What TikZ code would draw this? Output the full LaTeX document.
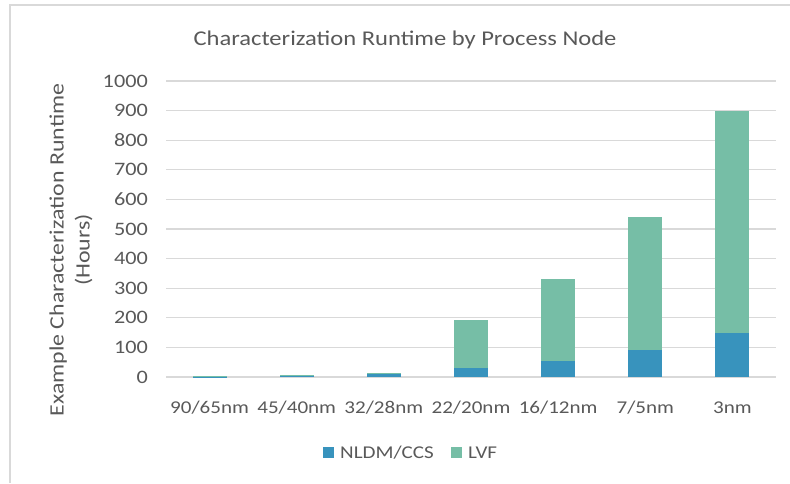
\documentclass[tikz,border=0pt]{standalone}
\usepackage{fontspec}
\setmainfont{Carlito}[FakeStretch=1.17]
\definecolor{nldm}{HTML}{3893BD}
\definecolor{lvf}{HTML}{76BEA6}
\definecolor{gridgray}{HTML}{D9D9D9}
\definecolor{textgray}{HTML}{595959}
\definecolor{framegray}{HTML}{D9D9D9}
\begin{document}
\begin{tikzpicture}[x=1pt,y=-1pt,
  ticklabel/.style={font=\fontsize{19}{22}\selectfont, text=textgray, anchor=east, inner sep=0pt},
  catlabel/.style={font=\fontsize{18}{22}\selectfont, text=textgray, anchor=center, inner sep=0pt},
  gridline/.style={draw=gridgray, line width=1.2pt},
  legendkey/.style={minimum size=11pt, inner sep=0pt},
  legendtext/.style={font=\fontsize{18}{22}\selectfont, text=textgray, anchor=west, inner sep=0pt}]
  \useasboundingbox (0,0) rectangle (790,483);
  % chart frame (only top and left edges fall inside the page)
  \draw[framegray, line width=1.5pt] (10,483) -- (10,5) -- (790,5);
  % title
  \node[font=\fontsize{21}{25}\selectfont, text=textgray] (title) at (405,40) {Characterization Runtime by Process Node};
  % horizontal gridlines and value axis labels
  \foreach \v in {0,100,...,1000} {
    \draw[gridline] (166,{377-0.296*\v}) -- (776,{377-0.296*\v});
    \node[ticklabel] (tick\v) at (148,{377-0.296*\v}) {\v};
  }
  % stacked bars: category index, label, NLDM/CCS, LVF
  \foreach \i/\lab/\a/\b in {0/90\slash65nm/1/1, 1/45\slash40nm/5/1, 2/32\slash28nm/12/2, 3/22\slash20nm/30/162, 4/16\slash12nm/55/277, 5/7\slash5nm/90/450, 6/3nm/150/750} {
    \pgfmathsetmacro{\cx}{166+87.14*(\i+0.5)}
    \fill[nldm] ({\cx-17},377) rectangle ({\cx+17},{377-0.296*\a});
    \fill[lvf] ({\cx-17},{377-0.296*\a}) rectangle ({\cx+17},{377-0.296*(\a+\b)});
    \node[catlabel] (cat\i) at (\cx,408) {\lab};
  }
  % value axis title
  \node[font=\fontsize{20.4}{26}\selectfont, text=textgray, rotate=90, align=center] (ytitle) at (71,250) {Example Characterization Runtime\\(Hours)};
  % legend
  \node[legendkey, fill=nldm] (keyA) at (328.5,452.5) {};
  \node[legendtext] (labA) at (340,452.5) {NLDM/CCS};
  \node[legendkey, fill=lvf] (keyB) at (456,452.5) {};
  \node[legendtext] (labB) at (468,452.5) {LVF};
\end{tikzpicture}
\end{document}
